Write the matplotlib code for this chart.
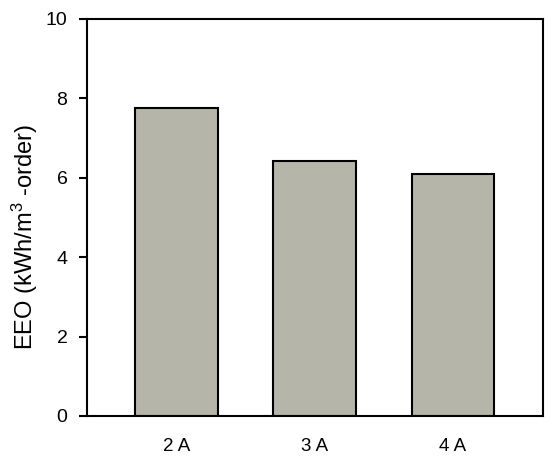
import matplotlib.pyplot as plt

plt.rc('font', family=['Liberation Sans', 'DejaVu Sans'])
plt.rc('mathtext', fontset='custom', rm='Liberation Sans', it='Liberation Sans')

# data
categories = ["2 A", "3 A", "4 A"]
eeo = [7.75, 6.42, 6.10]

fig = plt.figure(figsize=(5.5, 4.62), dpi=100)
ax = fig.add_axes([0.158, 0.0996, 0.829, 0.8593])

x = range(1, len(categories) + 1)
ax.bar(x, eeo, width=0.6, color="#b5b5a9", edgecolor="black", linewidth=1.5)

ax.set_xlim(0.35, 3.65)
ax.set_ylim(0, 10)
ax.set_yticks([0, 2, 4, 6, 8, 10])
ax.set_xticks(list(x))
ax.set_xticklabels(categories)
ax.tick_params(axis='x', length=0, pad=16, labelsize=13.5)
ax.tick_params(axis='y', length=6, width=1.5, pad=8, labelsize=14)
for s in ax.spines.values():
    s.set_linewidth(1.5)

ax.set_ylabel(r"EEO (kWh/m$^{3}$ -order)", fontsize=17, va='center')
ax.yaxis.set_label_coords(-0.135, 0.452)

plt.savefig("out.png", dpi=100)
